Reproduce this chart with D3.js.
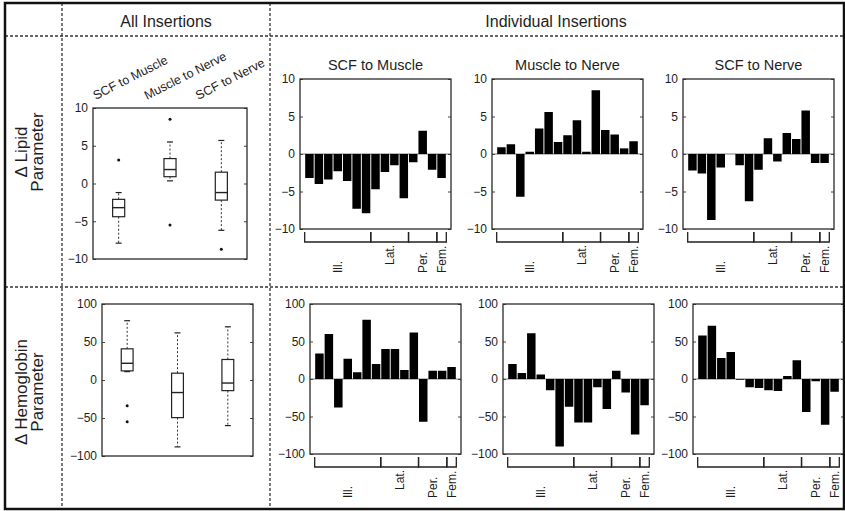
<!DOCTYPE html>
<html>
<head>
<meta charset="utf-8">
<script src="https://cdn.jsdelivr.net/npm/d3@7"></script>
<style>
  html, body { margin: 0; padding: 0; background: #fff; }
  svg { display: block; font-family: "Liberation Sans", Arial, Helvetica, sans-serif; }
</style>
</head>
<body>
<svg id="chart" width="845" height="511"></svg>
<script>
// ---------------- data ----------------
const comparisons = ["SCF to Muscle", "Muscle to Nerve", "SCF to Nerve"];
const rowLabels = [["\u0394 Lipid", "Parameter"], ["\u0394 Hemoglobin", "Parameter"]];
const columnHeaders = ["All Insertions", "Individual Insertions"];
const groupNames = ["Ill.", "Lat.", "Per.", "Fem."];
const groupSizes = [7, 4, 3, 1];

const lipidTicks = [-10, -5, 0, 5, 10];
const hemoTicks = [-100, -50, 0, 50, 100];

// individual insertions (15 per comparison)
const lipidSCFtoMuscle   = [-3.2, -4.0, -3.4, -2.3, -3.6, -7.3, -7.9, -4.7, -2.4, -1.5, -5.9, -1.1, 3.1, -2.1, -3.2];
const lipidMuscleToNerve = [0.9, 1.3, -5.7, 0.3, 3.4, 5.6, 1.6, 2.5, 4.5, 0.3, 8.5, 3.2, 2.6, 0.75, 1.7];
const lipidSCFtoNerve    = [-2.2, -2.6, -8.8, -1.8, 0, -1.5, -6.3, -2.1, 2.1, -1.0, 2.8, 2.0, 5.8, -1.2, -1.2];

const hemoSCFtoMuscle    = [34, 60, -38, 27, 9, 79, 20, 40, 40, 12, 62, -57, 11, 11, 16];
const hemoMuscleToNerve  = [20, 8, 61, 6, -15, -90, -37, -58, -58, -11, -40, 11, -18, -74, -35];
const hemoSCFtoNerve     = [58, 71, 28, 36, -1, -11, -12, -15, -16, 4, 25, -44, -3, -61, -17];

// all insertions: box-plot statistics
const lipidBoxLow     = [-7.9, 0.35, -6.2];
const lipidBoxQ1      = [-4.4, 0.9, -2.2];
const lipidBoxMedian  = [-3.2, 1.85, -1.2];
const lipidBoxQ3      = [-2.1, 3.3, 1.5];
const lipidBoxHigh    = [-1.2, 5.5, 5.7];
const lipidOutliers   = [[3.1], [8.5, -5.5], [-8.7]];

const hemoBoxLow      = [11, -88, -60];
const hemoBoxQ1       = [12, -49.5, -14];
const hemoBoxMedian   = [22, -16.5, -4];
const hemoBoxQ3       = [41, 9, 27];
const hemoBoxHigh     = [78, 62, 70];
const hemoOutliers    = [[-34, -55], [], []];

// ---------------- layout ----------------
const svg = d3.select("#chart");
const INK = "#1e1e1e";
const rows = [
  {
    domain: [-10, 10], ticks: lipidTicks,
    series: [lipidSCFtoMuscle, lipidMuscleToNerve, lipidSCFtoNerve],
    box: { low: lipidBoxLow, q1: lipidBoxQ1, med: lipidBoxMedian, q3: lipidBoxQ3, high: lipidBoxHigh, out: lipidOutliers },
    boxRect: { x: 93, y: 108, w: 154, h: 151 },
    barY: 79, barH: 150, barXs: [300, 492, 683], barW: 151,
    titles: true, labelCenterY: 152
  },
  {
    domain: [-100, 100], ticks: hemoTicks,
    series: [hemoSCFtoMuscle, hemoMuscleToNerve, hemoSCFtoNerve],
    box: { low: hemoBoxLow, q1: hemoBoxQ1, med: hemoBoxMedian, q3: hemoBoxQ3, high: hemoBoxHigh, out: hemoOutliers },
    boxRect: { x: 102, y: 304, w: 151, h: 152 },
    barY: 304, barH: 150, barXs: [310, 503, 693], barW: 151,
    titles: false, labelCenterY: 392
  }
];
const groupLabelLift = { "Lat.": 8 };

// ---------------- grid / frame ----------------
const grid = svg.append("g").attr("stroke", "#333").attr("stroke-width", 1.3).attr("stroke-dasharray", "3,2").attr("fill", "none");
grid.append("line").attr("x1", 5).attr("x2", 844).attr("y1", 36).attr("y2", 36);
grid.append("line").attr("x1", 5).attr("x2", 844).attr("y1", 287).attr("y2", 287);
grid.append("line").attr("x1", 62).attr("x2", 62).attr("y1", 3).attr("y2", 509);
grid.append("line").attr("x1", 270).attr("x2", 270).attr("y1", 3).attr("y2", 509);

// headers
svg.append("text").attr("x", 166).attr("y", 27).attr("text-anchor", "middle")
  .attr("font-size", 16).attr("fill", INK).text(columnHeaders[0]);
svg.append("text").attr("x", 556).attr("y", 27).attr("text-anchor", "middle")
  .attr("font-size", 16).attr("fill", INK).text(columnHeaders[1]);

// helper: y axes with inward ticks on both sides + frame
function drawFrame(g, y, w, h, ticks) {
  g.append("g").call(d3.axisLeft(y).tickValues(ticks).tickSize(-3).tickPadding(5))
    .call(a => a.select(".domain").remove())
    .call(a => a.selectAll("text").attr("font-size", 12).attr("fill", INK).attr("font-family", "Liberation Sans, Arial, sans-serif"))
    .call(a => a.selectAll("line").attr("stroke", "#444"));
  g.append("g").attr("transform", `translate(${w},0)`)
    .call(d3.axisRight(y).tickValues(ticks).tickSize(-3).tickFormat(""))
    .call(a => a.select(".domain").remove())
    .call(a => a.selectAll("line").attr("stroke", "#444"));
  g.append("rect").attr("x", 0).attr("y", 0).attr("width", w).attr("height", h)
    .attr("fill", "none").attr("stroke", "#2a2a2a").attr("stroke-width", 1.3);
}

rows.forEach((row, ri) => {
  // row label
  const lx = [27, 43];
  row.labelLines = rowLabels[ri];
  row.labelLines.forEach((t, i) => {
    svg.append("text")
      .attr("transform", `translate(${lx[i]},${row.labelCenterY}) rotate(-90)`)
      .attr("text-anchor", "middle").attr("font-size", 17).attr("fill", INK).text(t);
  });

  // ---- box plot ----
  const br = row.boxRect;
  const gb = svg.append("g").attr("transform", `translate(${br.x},${br.y})`);
  const yb = d3.scaleLinear().domain(row.domain).range([br.h, 0]);
  const xb = d3.scaleLinear().domain([0.5, 3.5]).range([0, br.w]);
  const bw = xb(1.235) - xb(1);
  const cw = bw / 2;
  comparisons.forEach((c, i) => {
    const cx = xb(i + 1);
    const b = row.box;
    // whiskers (dotted)
    gb.append("line").attr("x1", cx).attr("x2", cx).attr("y1", yb(b.q3[i])).attr("y2", yb(b.high[i]))
      .attr("stroke", "#333").attr("stroke-width", 1).attr("stroke-dasharray", "2,2");
    gb.append("line").attr("x1", cx).attr("x2", cx).attr("y1", yb(b.q1[i])).attr("y2", yb(b.low[i]))
      .attr("stroke", "#333").attr("stroke-width", 1).attr("stroke-dasharray", "2,2");
    // caps
    [b.high[i], b.low[i]].forEach(v => {
      gb.append("line").attr("x1", cx - cw / 2).attr("x2", cx + cw / 2).attr("y1", yb(v)).attr("y2", yb(v))
        .attr("stroke", "#222").attr("stroke-width", 1.2);
    });
    // box
    gb.append("rect").attr("x", cx - bw / 2).attr("width", bw)
      .attr("y", yb(b.q3[i])).attr("height", yb(b.q1[i]) - yb(b.q3[i]))
      .attr("fill", "none").attr("stroke", "#222").attr("stroke-width", 1.2);
    gb.append("line").attr("x1", cx - bw / 2).attr("x2", cx + bw / 2).attr("y1", yb(b.med[i])).attr("y2", yb(b.med[i]))
      .attr("stroke", "#222").attr("stroke-width", 1.4);
    b.out[i].forEach(v => {
      gb.append("circle").attr("cx", cx).attr("cy", yb(v)).attr("r", 1.5).attr("fill", "#111");
    });
    // rotated category labels (top row only)
    if (row.titles) {
      svg.append("text")
        .attr("transform", `translate(${br.x + cx - 23},${100}) rotate(-27)`)
        .attr("font-size", 12.5).attr("fill", INK).text(c);
    }
  });
  drawFrame(gb, yb, br.w, br.h, row.ticks);

  // ---- individual bar panels ----
  row.series.forEach((vals, si) => {
    const px = row.barXs[si];
    const g = svg.append("g").attr("transform", `translate(${px},${row.barY})`);
    const y = d3.scaleLinear().domain(row.domain).range([row.barH, 0]);
    const x = d3.scaleLinear().domain([0, vals.length + 1]).range([0, row.barW]);
    const w = x(0.9) - x(0);
    if (row.titles) {
      svg.append("text").attr("x", px + row.barW / 2).attr("y", 70).attr("text-anchor", "middle")
        .attr("font-size", 14.5).attr("fill", INK).text(comparisons[si]);
    }
    g.append("line").attr("x1", 0).attr("x2", row.barW).attr("y1", y(0)).attr("y2", y(0))
      .attr("stroke", "#777").attr("stroke-width", 1);
    g.selectAll("rect.bar").data(vals).join("rect").attr("class", "bar")
      .attr("x", (d, i) => x(i + 1) - w / 2).attr("width", w)
      .attr("y", d => Math.min(y(d), y(0))).attr("height", d => Math.abs(y(d) - y(0)))
      .attr("fill", "#000");
    drawFrame(g, y, row.barW, row.barH, row.ticks);

    // group brackets
    let start = 0;
    const bTop = row.barH + 3, bBot = row.barH + 13;
    groupSizes.forEach((n, gi) => {
      const x0 = x(start + 1) - w / 2 - 0.5;
      const x1 = x(start + n) + w / 2 + 0.5;
      g.append("path").attr("d", `M${x0},${bTop}V${bBot}H${x1}V${bTop}`)
        .attr("fill", "none").attr("stroke", "#222").attr("stroke-width", 1.3);
      const lx2 = (x0 + x1) / 2;
      const ly = bBot + 31 - (groupLabelLift[groupNames[gi]] || 0);
      g.append("text").attr("transform", `translate(${lx2},${ly}) rotate(-90)`)
        .attr("dy", "0.35em").attr("font-size", 12).attr("fill", INK).text(groupNames[gi]);
      start += n;
    });
  });
});

// outer border
svg.append("rect").attr("x", 5).attr("y", 3).attr("width", 839).attr("height", 506)
  .attr("fill", "none").attr("stroke", "#111").attr("stroke-width", 2.5);
</script>
</body>
</html>
